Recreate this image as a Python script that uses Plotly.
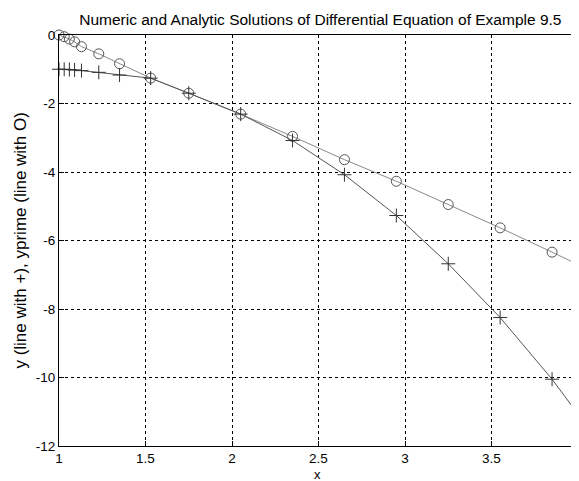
import plotly.graph_objects as go

x_vals = [1.0, 1.03, 1.06, 1.09, 1.13, 1.23, 1.35, 1.53, 1.75, 2.05, 2.35, 2.65, 2.95, 3.25, 3.55, 3.85, 4.0]
y_plus = [-1.0, -1.0, -1.01, -1.02, -1.04, -1.09, -1.17, -1.26, -1.70, -2.31, -3.08, -4.08, -5.27, -6.68, -8.25, -10.05, -11.07]
y_circ = [0.0, -0.05, -0.12, -0.2, -0.34, -0.55, -0.84, -1.26, -1.70, -2.31, -2.96, -3.64, -4.27, -4.95, -5.63, -6.34, -6.70]

x_ticks = [1, 1.5, 2, 2.5, 3, 3.5, 4]
x_tick_text = ["1", "1.5", "2", "2.5", "3", "3.5", "4"]
y_ticks = [0, -2, -4, -6, -8, -10, -12]
y_tick_text = ["0", "-2", "-4", "-6", "-8", "-10", "-12"]

title_text = "Numeric and Analytic Solutions of Differential Equation of Example 9.5"
x_label = "x"
y_label = "y (line with +), yprime (line with O)"

font = "Liberation Sans, Arial, sans-serif"

fig = go.Figure()
fig.add_trace(go.Scatter(
    x=x_vals, y=y_circ, mode="lines+markers",
    line=dict(color="#8a8a8a", width=1),
    marker=dict(symbol="circle-open", size=10, color="#555555", line=dict(width=1, color="#555555")),
    showlegend=False, cliponaxis=False,
))
fig.add_trace(go.Scatter(
    x=x_vals, y=y_plus, mode="lines+markers",
    line=dict(color="#555555", width=1),
    marker=dict(symbol="cross-thin-open", size=10, color="#333333", line=dict(width=1, color="#333333")),
    showlegend=False, cliponaxis=False,
))

fig.update_layout(
    width=571, height=473,
    margin=dict(l=51, r=1, t=27, b=35, autoexpand=False),
    paper_bgcolor="white", plot_bgcolor="white",
    font=dict(family=font, size=13.5, color="black"),
    title=dict(text=title_text, x=0.547, xanchor="center", y=0.975, yanchor="middle",
               font=dict(size=15.5, family=font, color="black")),
    annotations=[
        dict(text=x_label, xref="paper", yref="paper", x=0.499, y=-0.069, xanchor="center",
             yanchor="middle", showarrow=False, font=dict(size=13)),
        dict(text=y_label, xref="paper", yref="paper", x=-0.075, y=0.5, xanchor="center",
             yanchor="middle", showarrow=False, textangle=-90, font=dict(size=17)),
    ],
)
fig.update_xaxes(
    range=[1, 4], tickvals=x_ticks, ticktext=x_tick_text, automargin=False,
    ticklabeloverflow="allow",
    showgrid=True, gridcolor="black", griddash="3px,3px", gridwidth=1,
    showline=True, linecolor="black", linewidth=1, mirror=True,
    ticks="inside", ticklen=5, tickcolor="black", zeroline=False,
)
fig.update_yaxes(
    range=[-12, 0], tickvals=y_ticks, ticktext=y_tick_text, automargin=False,
    ticklabeloverflow="allow",
    showgrid=True, gridcolor="black", griddash="3px,3px", gridwidth=1,
    showline=True, linecolor="black", linewidth=1, mirror=True,
    ticks="inside", ticklen=5, tickcolor="black", zeroline=False,
)

fig.write_html("out.html")
